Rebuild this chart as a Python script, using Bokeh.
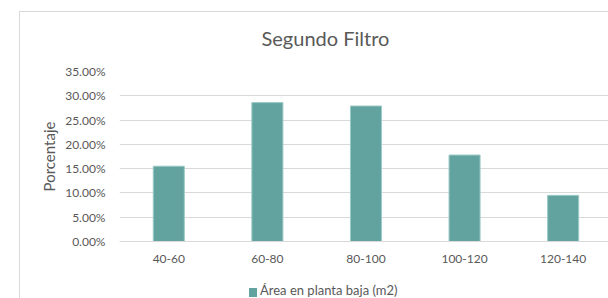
from bokeh.plotting import figure
from bokeh.models import (Range1d, FixedTicker, NumeralTickFormatter, ColumnDataSource, Div)
from bokeh.layouts import column
from bokeh.embed import file_html
from bokeh.resources import INLINE

# ---- data ----
categories = ["40-60", "60-80", "80-100", "100-120", "120-140"]
porcentaje = [0.155, 0.286, 0.279, 0.178, 0.095]
y_ticks = [0.0, 0.05, 0.10, 0.15, 0.20, 0.25, 0.30, 0.35]
series_name = "Área en planta baja (m2)"
title_text = "Segundo Filtro"
y_label = "Porcentaje"

FONT = "Lato"
TXT = "#595959"
GRID = "#d9d9d9"
BAR = "#63a39f"

x_pos = list(range(len(categories)))
src = ColumnDataSource(dict(x=x_pos, y=porcentaje, cat=categories))

LINE = f"linear-gradient({GRID},{GRID})"
p = figure(width=608, height=283, output_backend="svg", toolbar_location=None,
           x_range=Range1d(-0.5, 4.46), y_range=Range1d(0, 0.35),
           min_border_left=119, min_border_right=0, min_border_top=71, min_border_bottom=42)
p.styles = {"background": f"{LINE} 19px 11px / 1px 100% no-repeat, "
                          f"{LINE} 19px 11px / 100% 1px no-repeat, white"}

r = p.vbar(x="x", top="y", width=0.315, source=src, fill_color=BAR,
           line_color="#9ccac6", line_width=1, legend_label=series_name)

p.title.text = title_text
p.title.text_font = FONT
p.title.text_font_size = "20px"
p.title.text_font_style = "normal"
p.title.text_color = TXT
p.title.align = "left"
p.title.offset = 142
p.title.standoff = 44

p.outline_line_color = None
p.background_fill_color = "white"
p.border_fill_color = None

# axes
p.xaxis.ticker = FixedTicker(ticks=x_pos)
p.xaxis.major_label_overrides = {i: c for i, c in zip(x_pos, categories)}
p.xaxis.major_label_text_font = FONT
p.xaxis.major_label_text_font_size = "12px"
p.xaxis.major_label_text_color = TXT
p.xaxis.major_tick_line_color = None
p.xaxis.minor_tick_line_color = None
p.xaxis.axis_line_color = GRID
p.xaxis.major_label_standoff = 7

p.yaxis.ticker = FixedTicker(ticks=y_ticks)
p.yaxis.formatter = NumeralTickFormatter(format="0.00%")
p.yaxis.major_label_text_font = FONT
p.yaxis.major_label_text_font_size = "12px"
p.yaxis.major_label_text_color = TXT
p.yaxis.major_tick_line_color = None
p.yaxis.minor_tick_line_color = None
p.yaxis.axis_line_color = None
p.yaxis.major_label_standoff = 8
p.yaxis.axis_label = y_label
p.yaxis.axis_label_text_font = FONT
p.yaxis.axis_label_text_font_size = "15px"
p.yaxis.axis_label_text_font_style = "normal"
p.yaxis.axis_label_text_color = TXT
p.yaxis.axis_label_standoff = 4

p.xgrid.grid_line_color = None
p.ygrid.grid_line_color = GRID
p.ygrid.grid_line_width = 1

# the chart legend is shown in the strip below the plot (Excel-style bottom legend)
p.legend.visible = False
swatch = (f'<span style="display:inline-block;width:8px;height:9px;background:{BAR};'
          f'margin-right:3px;vertical-align:-1.5px"></span>')
legend_div = Div(text=f'<div style="padding-left:249px;font-family:{FONT};font-size:13px;'
                      f'line-height:15px;color:{TXT};white-space:nowrap;overflow:hidden">'
                      f'{swatch}{series_name}</div>',
                 width=608, height=15, margin=(0, 0, 0, 0),
                 styles={"background": f"{LINE} 19px 0 / 1px 100% no-repeat, white",
                         "overflow": "hidden"})

layout = column(p, legend_div, spacing=0)
html = file_html(layout, INLINE)
html = html.replace("<head>", "<head><style>html,body{overflow:hidden;margin:0}</style>", 1)
open("out.html", "w").write(html)
